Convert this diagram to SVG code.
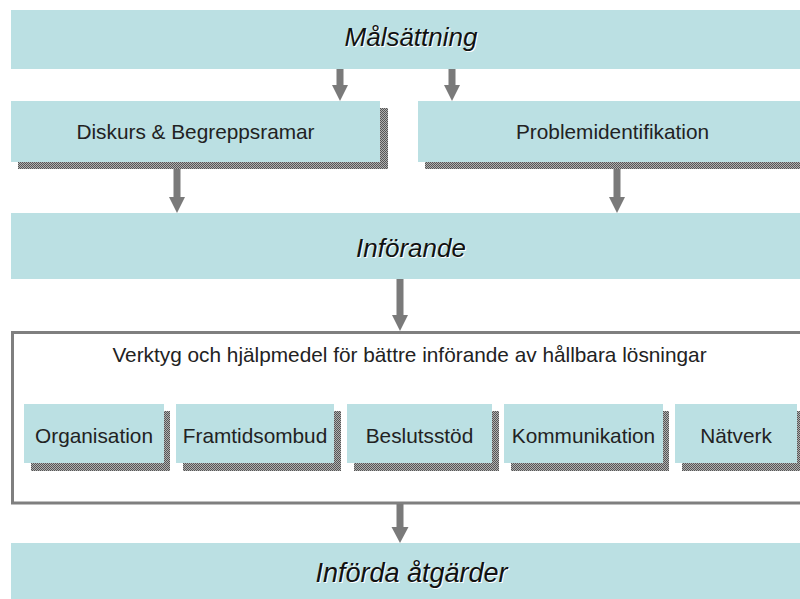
<svg xmlns="http://www.w3.org/2000/svg" width="800" height="599" viewBox="0 0 800 599">
<defs>
<pattern id="dots" width="2" height="2" patternUnits="userSpaceOnUse">
<rect width="2" height="2" fill="#b0b0b0"/>
<rect width="1" height="1" fill="#555"/>
<rect x="1" y="1" width="1" height="1" fill="#555"/>
</pattern>
</defs>
<style>
.band{fill:#bbe0e3}
.box{fill:#bbe0e3}
.shadow{fill:url(#dots)}
.big{font-family:"Liberation Sans",Arial,sans-serif;font-style:italic;font-size:26px;fill:#111;text-anchor:middle}
.bigsh{font-family:"Liberation Sans",Arial,sans-serif;font-style:italic;font-size:26px;fill:#fff;text-anchor:middle}
.lbl{font-family:"Liberation Sans",Arial,sans-serif;font-size:20.8px;fill:#222;text-anchor:middle}
.arrow{fill:#7a7a7a}
.frame{fill:none;stroke:#7f7f7f;stroke-width:3}
</style>
<rect width="800" height="599" fill="#fff"/>

<g id="malsattning">
<rect class="band" x="11" y="10" width="800" height="59"/>
<text class="bigsh" x="412" y="47">Målsättning</text>
<text class="big" x="411" y="46">Målsättning</text>
</g>

<g id="diskurs">
<rect class="shadow" x="18" y="108" width="370" height="61"/>
<rect class="box" x="11" y="101" width="369" height="61"/>
<text class="lbl" x="195.5" y="139">Diskurs &amp; Begreppsramar</text>
</g>

<g id="problemidentifikation">
<rect class="shadow" x="425" y="108" width="400" height="61"/>
<rect class="box" x="418" y="101" width="400" height="61"/>
<text class="lbl" x="612.5" y="139">Problemidentifikation</text>
</g>

<g id="inforande">
<rect class="band" x="11" y="213" width="800" height="66"/>
<text class="bigsh" x="412" y="258">Införande</text>
<text class="big" x="411" y="257">Införande</text>
</g>

<g id="verktyg">
<rect class="frame" x="12.5" y="332.5" width="800" height="170.5"/>
<text class="lbl" x="409.5" y="362">Verktyg och hjälpmedel för bättre införande av hållbara lösningar</text>
</g>

<g id="organisation">
<rect class="shadow" x="31" y="411" width="139" height="60"/>
<rect class="box" x="24" y="404" width="140" height="59"/>
<text class="lbl" x="94" y="443">Organisation</text>
</g>
<g id="framtidsombud">
<rect class="shadow" x="183" y="411" width="158" height="60"/>
<rect class="box" x="176" y="404" width="158" height="59"/>
<text class="lbl" x="255" y="443">Framtidsombud</text>
</g>
<g id="beslutsstod">
<rect class="shadow" x="354" y="411" width="145" height="60"/>
<rect class="box" x="347" y="404" width="145" height="59"/>
<text class="lbl" x="419.5" y="443">Beslutsstöd</text>
</g>
<g id="kommunikation">
<rect class="shadow" x="511" y="411" width="158" height="60"/>
<rect class="box" x="504" y="404" width="159" height="59"/>
<text class="lbl" x="583.5" y="443">Kommunikation</text>
</g>
<g id="natverk">
<rect class="shadow" x="682" y="411" width="122" height="60"/>
<rect class="box" x="675" y="404" width="122" height="59"/>
<text class="lbl" x="736" y="443">Nätverk</text>
</g>

<g id="inforda">
<rect class="band" x="11" y="543" width="800" height="60"/>
<text class="bigsh" x="412.5" y="583" style="font-size:27px">Införda åtgärder</text>
<text class="big" x="411.5" y="582" style="font-size:27px">Införda åtgärder</text>
</g>

<g id="connectors">
<polygon class="arrow" points="336.5,69 343.5,69 343.5,85 348,85 340,101 332,85 336.5,85"/>
<polygon class="arrow" points="448.5,69 455.5,69 455.5,85 460,85 452,101 444,85 448.5,85"/>
<polygon class="arrow" points="173.5,169 180.5,169 180.5,197 185,197 177,213 169,197 173.5,197"/>
<polygon class="arrow" points="613.5,169 620.5,169 620.5,197 625,197 617,213 609,197 613.5,197"/>
<polygon class="arrow" points="396.5,279 403.5,279 403.5,315 408,315 400,331 392,315 396.5,315"/>
<polygon class="arrow" points="396.5,504 403.5,504 403.5,527 408.5,527 400,543 391.5,527 396.5,527"/>
</g>
</svg>
